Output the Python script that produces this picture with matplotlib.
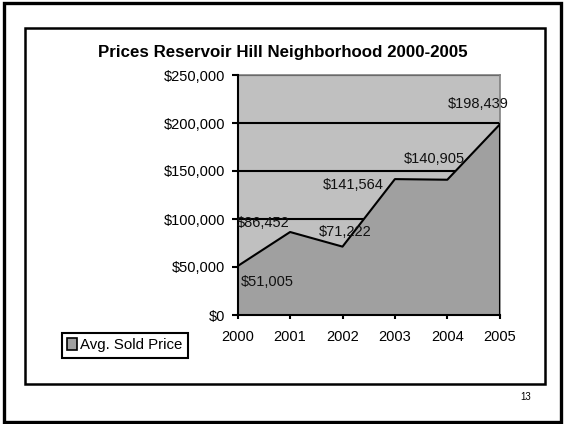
import matplotlib
matplotlib.use("Agg")
import matplotlib.pyplot as plt
from matplotlib.patches import Rectangle, Patch
from matplotlib.ticker import FuncFormatter

plt.rcParams['font.family'] = ['Liberation Sans', 'DejaVu Sans']

# Average sold price per year
years = [2000, 2001, 2002, 2003, 2004, 2005]
avg_price = [51005, 86452, 71222, 141564, 140905, 198439]
year_labels = ['2000', '2001', '2002', '2003', '2004', '2005']
y_ticks = [0, 50000, 100000, 150000, 200000, 250000]

# label offsets in pixels relative to each point, plus alignment
label_pos = [
    ((3, -16), 'left'),
    ((-1, 9), 'right'),
    ((3, 15), 'center'),
    ((-11, -6), 'right'),
    ((-13, 21), 'center'),
    ((-21, 20), 'center'),
]

W, H = 564, 424
fig = plt.figure(figsize=(W / 100, H / 100), dpi=100)

# slide border and chart border
fig.patches.append(Rectangle((3.5 / W, 2.5 / H), 557 / W, 419 / H, transform=fig.transFigure,
                             fill=False, edgecolor='black', linewidth=2.4))
fig.patches.append(Rectangle((24.5 / W, 1 - 383.5 / H), 520 / W, 356 / H, transform=fig.transFigure,
                             fill=False, edgecolor='black', linewidth=1.8))

ax = fig.add_axes([237.7 / W, 1 - 315 / H, 262 / W, 240 / H])
ax.set_facecolor('#c0c0c0')
x = list(range(len(years)))
ax.fill_between(x, avg_price, 0, facecolor='#a0a0a0', edgecolor='none', zorder=1)
ax.plot(x, avg_price, color='black', linewidth=1.5, zorder=3)
ax.plot([x[-1], x[-1]], [0, avg_price[-1]], color='black', linewidth=1.5, zorder=3)

ax.set_xlim(0, len(years) - 1)
ax.set_ylim(0, 250000)
ax.set_yticks(y_ticks)
ax.yaxis.set_major_formatter(FuncFormatter(lambda v, p: '${:,.0f}'.format(v)))
ax.set_xticks(x)
ax.set_xticklabels(year_labels)
ax.tick_params(axis='y', length=4.3, width=1.5, pad=4.6, labelsize=10.5)
ax.tick_params(axis='x', length=2.6, width=1.5, pad=8.5, labelsize=10.5)

ax.set_axisbelow(True)
ax.yaxis.grid(True, color='black', linewidth=1.5)
for side in ['top', 'right']:
    ax.spines[side].set_color('#808080')
    ax.spines[side].set_linewidth(1.2)
for side in ['left', 'bottom']:
    ax.spines[side].set_linewidth(1.5)
    ax.spines[side].set_zorder(4)

for xi, v, (off, ha) in zip(x, avg_price, label_pos):
    ax.annotate('${:,}'.format(v), (xi, v), xytext=off, textcoords='offset pixels',
                ha=ha, va='center', fontsize=10.5, color='#111111', zorder=5,
                annotation_clip=False)

fig.text(283 / W, 1 - 52 / H, 'Prices Reservoir Hill Neighborhood 2000-2005',
         ha='center', va='center', fontsize=12.2, fontweight='bold')

leg = fig.legend(handles=[Patch(facecolor='#a0a0a0', edgecolor='black', linewidth=1.2,
                                label='Avg. Sold Price')],
                 loc='upper left', bbox_to_anchor=(62 / W, 1 - 333 / H), fontsize=10.8,
                 frameon=True, fancybox=False, edgecolor='black', framealpha=1,
                 handlelength=0.65, handleheight=0.85, handletextpad=0.2,
                 borderpad=0.35, borderaxespad=0)
leg.get_frame().set_linewidth(1.5)

fig.text(526 / W, 1 - 397 / H, '13', ha='center', va='center', fontsize=7)

fig.savefig('out.png', dpi=100)
